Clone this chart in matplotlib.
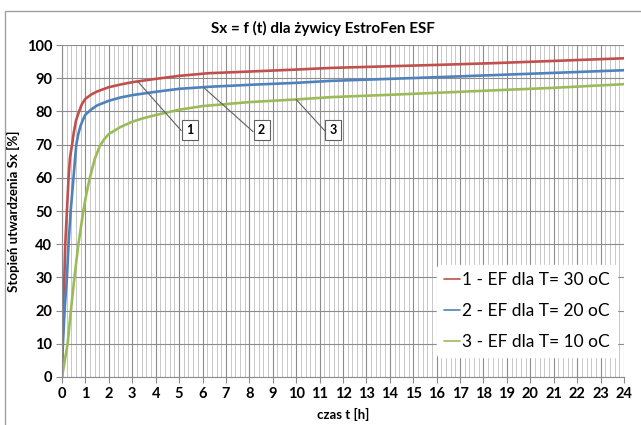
import numpy as np
import matplotlib.pyplot as plt
from matplotlib.patches import Rectangle

plt.rcParams['font.family'] = ['Lato', 'DejaVu Sans']

# czas [h] i stopien utwardzenia [%]
t_30 = [0, 0.02, 0.04, 0.1, 0.14, 0.21, 0.28, 0.34, 0.43, 0.5, 0.6, 0.73, 0.85, 1.0, 1.25,
        1.5, 2, 2.5, 3, 4, 5, 6.25, 8, 10, 11.5, 14, 16, 18.3, 21, 24]
sx_30 = [0, 10, 20, 30, 40, 50, 60, 66, 70, 73.5, 77.3, 80, 82.2, 83.8, 85.1,
         86.0, 87.3, 88.1, 88.8, 89.8, 90.7, 91.5, 92.0, 92.6, 93.1, 93.6, 94.0, 94.5, 95.2, 96.0]

t_20 = [0, 0.04, 0.11, 0.21, 0.28, 0.37, 0.49, 0.61, 0.7, 0.8, 0.9, 1.0, 1.25, 1.5, 2, 2.5,
        3, 4, 5, 6.25, 8, 10, 11.5, 14, 16, 18.3, 21, 24]
sx_20 = [3, 10, 20, 30, 40, 50, 60, 70, 73.3, 75.8, 77.6, 79, 80.6, 81.8, 83.2, 84.2,
         84.9, 85.9, 86.8, 87.4, 88.0, 88.6, 89.2, 89.8, 90.3, 90.9, 91.6, 92.4]

t_10 = [0, 0.24, 0.38, 0.53, 0.7, 0.91, 1.05, 1.19, 1.4, 1.61, 1.8, 2, 2.5, 3, 3.5, 4, 5, 6,
        8, 10, 11.5, 14, 16, 18.3, 21, 24]
sx_10 = [0, 10, 20, 30, 40, 50, 55.5, 60, 65.7, 69.5, 71.6, 73.2, 75.3, 76.9, 78.0, 78.9,
         80.5, 81.6, 82.8, 83.6, 84.3, 85.0, 85.6, 86.3, 87.1, 88.2]

labels = ['1 - EF dla T= 30 oC', '2 - EF dla T= 20 oC', '3 - EF dla T= 10 oC']
colors = ['#C0504D', '#4F81BD', '#9BBB59']

fig = plt.figure(figsize=(6.41, 4.25), dpi=100)
fig.patches.append(Rectangle((5 / 641, -0.1), 1.2, 1 - 11 / 425 + 0.1, transform=fig.transFigure,
                             fill=False, ec='#a0a0a0', lw=1.0))
ax = fig.add_axes([62 / 641, 1 - 377 / 425, 562 / 641, 332 / 425])

for t, sx, c, lab in zip([t_30, t_20, t_10], [sx_30, sx_20, sx_10], colors, labels):
    ax.plot(t, sx, color=c, lw=1.9, label=lab, solid_capstyle='round', solid_joinstyle='round')

ax.set_xlim(0, 24)
ax.set_ylim(0, 100)
ax.set_xticks(np.arange(0, 25, 1))
ax.set_xticks(np.arange(0, 24.01, 0.2), minor=True)
ax.set_yticks(np.arange(0, 101, 10))
ax.grid(which='major', color='#8c8c8c', lw=0.8)
ax.grid(which='minor', axis='x', color='#c8c8c8', lw=0.7)
ax.set_axisbelow(True)
for s in ['top', 'right']:
    ax.spines[s].set_visible(False)
for s in ['left', 'bottom']:
    ax.spines[s].set_color('#8c8c8c')
ax.tick_params(which='major', length=4, color='#8c8c8c', labelsize=10.5, pad=3)
ax.tick_params(which='minor', length=0)
for lbl in ax.get_xticklabels() + ax.get_yticklabels():
    lbl.set_fontweight('bold')

ax.set_xlabel('czas t [h]', fontsize=9.5, fontweight='bold', labelpad=5)
ax.set_ylabel('Stopień utwardzenia Sx [%]', fontsize=9.5, fontweight='bold', labelpad=5)
fig.text(0.504, 0.932, 'Sx = f (t) dla żywicy EstroFen ESF', ha='center', va='center',
         fontsize=11, fontweight='bold')

# odnosniki 1, 2, 3
for txt, xy, xyt in [('1', (3.25, 88.9), (5.45, 74.4)),
                     ('2', (6.05, 87.2), (8.52, 74.4)),
                     ('3', (10.0, 83.6), (11.58, 74.4))]:
    ax.annotate(txt, xy=xy, xytext=xyt, ha='center', va='center', fontsize=9,
                fontweight='bold',
                bbox=dict(boxstyle='square,pad=0.35', fc='white', ec='#606060', lw=0.8),
                arrowprops=dict(arrowstyle='-', color='#606060', lw=0.8, relpos=(0, 0),
                                shrinkA=0, shrinkB=0))

leg = ax.legend(loc='lower right', fontsize=12.5, frameon=True, framealpha=1,
                edgecolor='white', handlelength=0.9, handletextpad=0.15,
                labelspacing=0.85, borderaxespad=0.4, bbox_to_anchor=(1.0, 0.04))
for h in leg.get_lines():
    h.set_linewidth(1.2)

fig.savefig('out.png', dpi=100)
